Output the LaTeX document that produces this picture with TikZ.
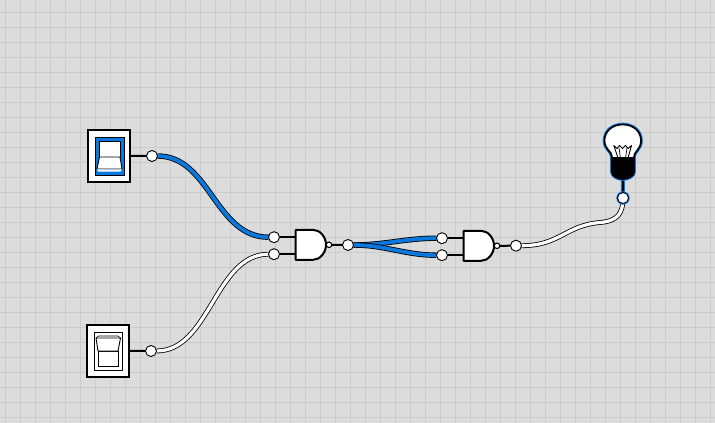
\documentclass[tikz,border=0pt]{standalone}
\usetikzlibrary{calc}
\pgfdeclarelayer{wires}
\pgfdeclarelayer{back}
\pgfsetlayers{back,wires,main}
\definecolor{bgc}{HTML}{DCDCDC}
\definecolor{gridc}{HTML}{CBCBCB}
\definecolor{onc}{HTML}{0A78DC}
\tikzset{
  x=1pt,y=-1pt,
  port/.style={circle,draw=black,fill=white,line width=0.9pt,minimum size=11pt,inner sep=0pt,outer sep=0pt},
  bubble/.style={circle,draw=black,fill=white,line width=1.1pt,minimum size=5.5pt,inner sep=0pt,outer sep=0pt},
  stub/.style={draw=black,line width=2pt},
  wireon/.style={draw=black,line width=0.8pt,double=onc,double distance=3.8pt},
  wireoff/.style={draw=black,line width=0.8pt,double=white,double distance=3.2pt},
  gatebody/.style={draw=black,fill=white,line width=2pt,line join=round},
  switchbox/.style={draw=black,fill=white,line width=2.4pt,minimum width=42pt,minimum height=52pt,inner sep=0pt},
}
\begin{document}
\begin{tikzpicture}
\useasboundingbox (0,0) rectangle (715,423);
\begin{pgfonlayer}{back}
\fill[bgc] (0,0) rectangle (715,423);
\foreach \i in {0,...,47} \draw[gridc,line width=1pt] ({5+15*\i},0) -- ({5+15*\i},423);
\foreach \j in {0,...,27} \draw[gridc,line width=1pt] (0,{12.5+15*\j}) -- (715,{12.5+15*\j});
\end{pgfonlayer}

% switches
\node[switchbox] (sw1) at (108.8,155.8) {};
\fill[onc] (95.5,137) rectangle (124,175);
\draw[black,line width=0.8pt] (95.5,137) rectangle (124,175);
\draw[black,fill=white,line width=0.8pt] (99.5,141) rectangle (120,157);
\draw[black,fill=white,line width=0.9pt,line join=round] (99.5,157) -- (120,157) -- (122,169) -- (97,169) -- cycle;
\fill[white] (97,169.4) -- (122,169.4) -- (120.5,171.5) -- (98.5,171.5) -- cycle;

\node[switchbox] (sw2) at (107.8,350.8) {};
\draw[black,line width=0.8pt] (94.5,332.5) rectangle (122.5,370.5);
\draw[black,fill=white,line width=0.8pt] (98,351) rectangle (118,366);
\draw[black,fill=white,line width=0.9pt,line join=round] (98,351) -- (118,351) -- (120.5,338) -- (96,338) -- cycle;
\draw[black,line width=0.6pt] (96,338) -- (98.5,336) -- (118,336) -- (120.5,338);

% gates
\draw[gatebody] (295.7,229.8) -- (313,229.8) .. controls (320,229.8) and (326,237) .. (326,244.8) .. controls (326,252.6) and (320,259.8) .. (313,259.8) -- (295.7,259.8) -- cycle;
\node[bubble] (b1) at (329,244.8) {};
\draw[gatebody] (463.7,230.8) -- (481,230.8) .. controls (488,230.8) and (494,238) .. (494,245.8) .. controls (494,253.6) and (488,260.8) .. (481,260.8) -- (463.7,260.8) -- cycle;
\node[bubble] (b2) at (497,245.8) {};
\coordinate (g1a) at (295.7,237.2);
\coordinate (g1b) at (295.7,254.2);
\coordinate (g2a) at (463.7,238.2);
\coordinate (g2b) at (463.7,255.2);

% ports
\node[port] (p1) at (152,156) {};
\node[port] (p2) at (151,351) {};
\node[port] (a1) at (274,237.2) {};
\node[port] (a2) at (274,254.2) {};
\node[port] (o1) at (348,245) {};
\node[port] (c1) at (442,238.2) {};
\node[port] (c2) at (442,255.2) {};
\node[port] (o2) at (516,245.7) {};

% bulb halo + bulb
\coordinate (bulbbase) at (623,177);
\begin{pgfonlayer}{wires}
\draw[stub] (sw1.east) -- (p1);
\draw[stub] (sw2.east) -- (p2);
\draw[stub] (a1) -- (g1a);
\draw[stub] (a2) -- (g1b);
\draw[stub] (c1) -- (g2a);
\draw[stub] (c2) -- (g2b);
\draw[stub] (b1) -- (o1);
\draw[stub] (b2) -- (o2);
\draw[wireon] (p1) .. controls (210,156) and (215,237.2) .. (a1);
\draw[wireoff] (p2) .. controls (210,351) and (215,254.2) .. (a2);
\draw[wireon] (o1) .. controls (385,245) and (405,238.2) .. (c1);
\draw[wireon] (o1) .. controls (385,245) and (405,255.2) .. (c2);
\draw[wireoff] (o2) .. controls (560,245.7) and (565,225.5) .. (600,222.5) .. controls (618,221) and (623,213) .. (623,198);
\draw[onc,line width=3.6pt] (bulbbase) -- (623,198);
\draw[black,line width=2pt] (bulbbase) -- (623,198);
\end{pgfonlayer}
\node[circle,fill=onc,minimum size=13.4pt,inner sep=0pt] at (623,198) {};
\node[port] (l1) at (623,198) {};

\def\bulbpath{(612,157) .. controls (612,151) and (604.5,150) .. (604.5,140.5) .. controls (604.5,131) and (612.5,124.5) .. (622.7,124.5) .. controls (633,124.5) and (641,131) .. (641,140.5) .. controls (641,150) and (634,151) .. (634,157) -- (634,172) .. controls (634,176) and (628,179) .. (622.7,179) .. controls (617.5,179) and (612,176) .. (612,172) -- cycle}
\draw[onc,line width=3.6pt,line join=round] \bulbpath;
\draw[black,fill=white,line width=1.7pt,line join=round] \bulbpath;
\fill[black] (612,157) -- (634,157) -- (634,172) .. controls (634,176) and (628,179) .. (622.7,179) .. controls (617.5,179) and (612,176) .. (612,172) -- cycle;
\draw[black,line width=0.9pt,line join=round] (618,158) -- (613.8,145.5) -- (617,148.5) -- (619.5,145.5) -- (622.5,148.5) -- (625.5,145.5) -- (628,148.5) -- (631.5,145.5) -- (628,158);
\draw[black,line width=0.7pt] (620.5,158) -- (619,148);
\draw[black,line width=0.7pt] (625.5,158) -- (627,148);
\end{tikzpicture}
\end{document}
